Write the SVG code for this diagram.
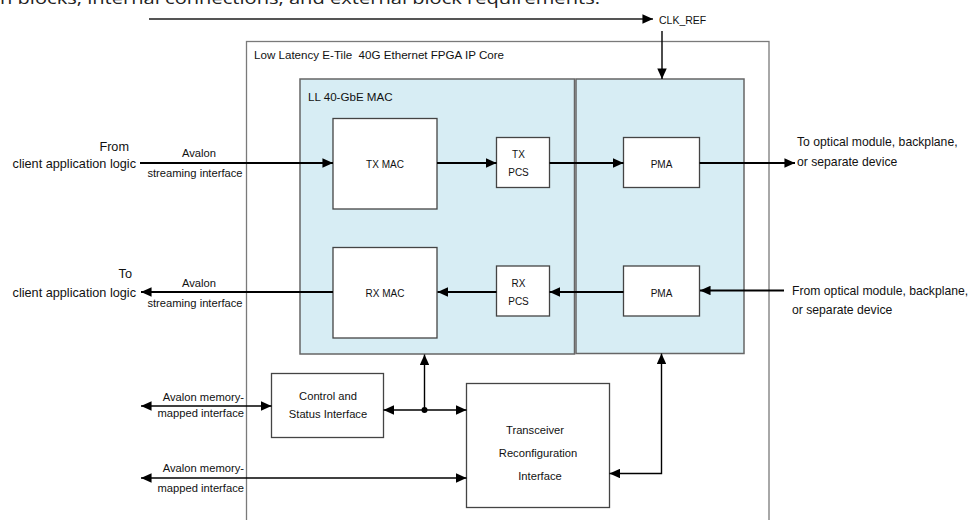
<svg xmlns="http://www.w3.org/2000/svg" width="972" height="520" viewBox="0 0 972 520">
<defs>
<style>
text{font-family:"Liberation Sans",Arial,sans-serif;fill:#111}
.big{font-size:12.7px}
.rt{font-size:12.2px}
.ttl{font-size:11.6px}
.sm{font-size:11.2px}
.in{font-size:10px}
.mid{text-anchor:middle}
.end{text-anchor:end}
.outer{fill:#fff;stroke:#7a7a7a;stroke-width:1.3}
.blue{fill:#d7edf4;stroke:#666;stroke-width:1.5}
.wb{fill:#fff;stroke:#444;stroke-width:1.3}
.ln{fill:none;stroke:#000;stroke-width:1.8}
.thin{fill:none;stroke:#000;stroke-width:1.4}
</style>
<marker id="ah" viewBox="0 0 10 9" refX="10" refY="4.5" markerWidth="11" markerHeight="9.5" markerUnits="userSpaceOnUse" orient="auto-start-reverse"><path d="M0,0L10,4.5L0,9z" fill="#000"/></marker>
</defs>
<rect width="972" height="520" fill="#fff"/>
<text x="0" y="3.5" style="font-family:'Open Sans','DejaVu Sans',sans-serif;font-size:16px;fill:#222" textLength="600" lengthAdjust="spacingAndGlyphs">n blocks, internal connections, and external block requirements.</text>

<g id="ip-core">
<rect class="outer" x="246.5" y="41.5" width="522.5" height="500"/>
<text class="ttl" x="254" y="59" xml:space="preserve">Low Latency E-Tile  40G Ethernet FPGA IP Core</text>
</g>
<g id="mac">
<rect class="blue" x="300" y="79" width="274.5" height="275"/>
<text class="ttl" x="308" y="101">LL 40-GbE MAC</text>
</g>
<g id="phy">
<rect class="blue" x="576" y="79" width="168" height="274.5"/>
</g>
<g id="tx-mac">
<rect class="wb" x="333" y="118.5" width="104" height="90.5"/>
<text class="in mid" x="385" y="167.5">TX MAC</text>
</g>
<g id="tx-pcs">
<rect class="wb" x="496.5" y="137.5" width="53" height="50"/>
<text class="in mid" x="518.5" y="158">TX</text>
<text class="in mid" x="518.5" y="176">PCS</text>
</g>
<g id="tx-pma">
<rect class="wb" x="623.5" y="137.5" width="76" height="50"/>
<text class="in mid" x="661.5" y="167.5">PMA</text>
</g>
<g id="rx-mac">
<rect class="wb" x="333" y="247.5" width="104" height="90.5"/>
<text class="in mid" x="385" y="296.5">RX MAC</text>
</g>
<g id="rx-pcs">
<rect class="wb" x="496.5" y="266" width="53" height="50"/>
<text class="in mid" x="518.5" y="287">RX</text>
<text class="in mid" x="518.5" y="305">PCS</text>
</g>
<g id="rx-pma">
<rect class="wb" x="623.5" y="266" width="76" height="50"/>
<text class="in mid" x="661.5" y="296.5">PMA</text>
</g>
<g id="csi">
<rect class="wb" x="271.5" y="373.5" width="112" height="64"/>
<text class="sm mid" x="328" y="400">Control and</text>
<text class="sm mid" x="328" y="417.5">Status Interface</text>
</g>
<g id="tri">
<rect class="wb" x="466.5" y="383.5" width="143" height="124"/>
<text class="sm mid" x="535" y="434">Transceiver</text>
<text class="sm mid" x="538" y="457">Reconfiguration</text>
<text class="sm mid" x="540" y="480">Interface</text>
</g>

<g id="connectors">
<line x1="149" y1="19" x2="653" y2="19" stroke="#555" stroke-width="2" marker-end="url(#ah)"/>
<line class="thin" x1="662" y1="31" x2="662" y2="79" marker-end="url(#ah)"/>
<line class="ln" x1="140" y1="163" x2="333" y2="163" marker-end="url(#ah)"/>
<line class="ln" x1="437" y1="163" x2="496.5" y2="163" marker-end="url(#ah)"/>
<line class="ln" x1="549.5" y1="163" x2="623.5" y2="163" marker-end="url(#ah)"/>
<line class="ln" x1="699.5" y1="163" x2="795" y2="163" marker-end="url(#ah)"/>
<line class="ln" x1="784" y1="290.5" x2="700" y2="290.5" marker-end="url(#ah)"/>
<line class="ln" x1="623.5" y1="292" x2="549.5" y2="292" marker-end="url(#ah)"/>
<line class="ln" x1="496.5" y1="292" x2="437.5" y2="292" marker-end="url(#ah)"/>
<line class="ln" x1="333" y1="292" x2="141" y2="292" marker-end="url(#ah)"/>
<line class="thin" x1="141" y1="406" x2="271.5" y2="406" marker-start="url(#ah)" marker-end="url(#ah)"/>
<line class="thin" x1="141" y1="478" x2="466.5" y2="478" marker-start="url(#ah)" marker-end="url(#ah)"/>
<line class="thin" x1="383.5" y1="410" x2="466.5" y2="410" marker-start="url(#ah)" marker-end="url(#ah)"/>
<line class="thin" x1="424.5" y1="410" x2="424.5" y2="354.5" marker-end="url(#ah)"/>
<circle cx="424.5" cy="410" r="3" fill="#000"/>
<path class="thin" d="M661.5,353.5V473.5H609.5" marker-start="url(#ah)" marker-end="url(#ah)"/>
</g>

<g id="labels">
<text x="659" y="23.5" style="font-size:10.5px">CLK_REF</text>
<text class="big end" x="129" y="150.7">From</text>
<text class="big end" x="136" y="167.7">client application logic</text>
<text class="sm mid" x="199" y="157">Avalon</text>
<text class="sm mid" x="195" y="177">streaming interface</text>
<text class="big end" x="132" y="278.3">To</text>
<text class="big end" x="136" y="297">client application logic</text>
<text class="sm mid" x="199" y="286.7">Avalon</text>
<text class="sm mid" x="195" y="307">streaming interface</text>
<text class="rt" x="797" y="146">To optical module, backplane,</text>
<text class="rt" x="797" y="165.5">or separate device</text>
<text class="rt" x="792" y="294.5">From optical module, backplane,</text>
<text class="rt" x="792" y="314">or separate device</text>
<text class="sm end" x="244" y="401">Avalon memory-</text>
<text class="sm end" x="244" y="416.5">mapped interface</text>
<text class="sm end" x="244" y="472">Avalon memory-</text>
<text class="sm end" x="244" y="491.5">mapped interface</text>
</g>
</svg>
